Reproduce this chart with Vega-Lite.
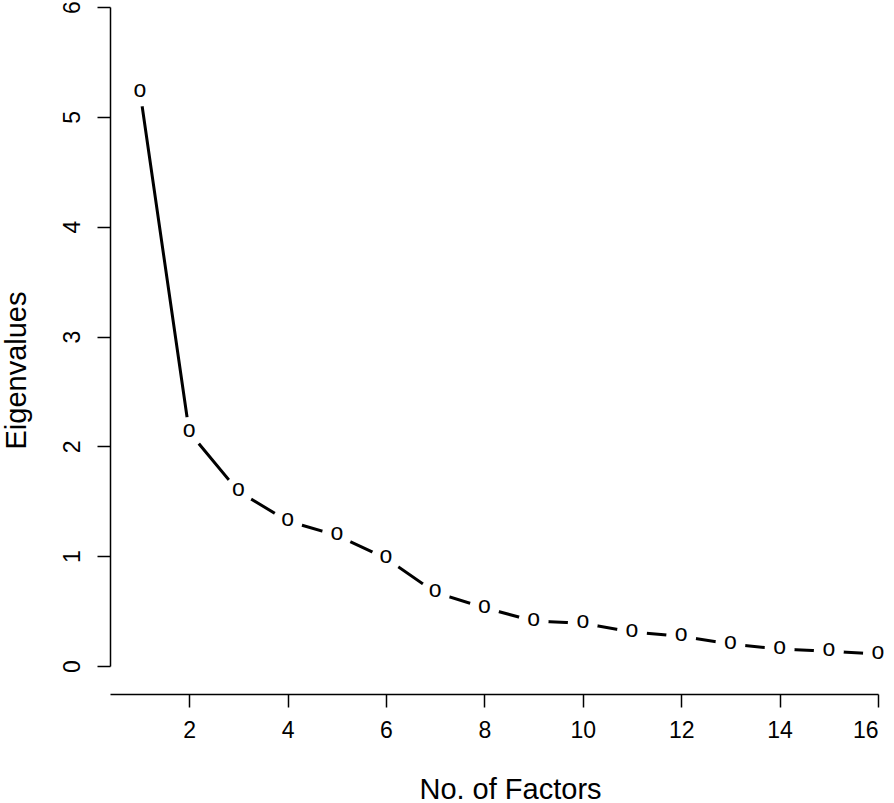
{
  "$schema": "https://vega.github.io/schema/vega-lite/v6.json",
  "autosize": {"type": "none"},
  "width": 768,
  "height": 659,
  "padding": {"left": 110, "top": 7, "right": 16, "bottom": 137},
  "background": "white",
  "config": {
    "view": {"stroke": null},
    "font": "Liberation Sans",
    "axis": {"grid": false, "domainColor": "black", "tickColor": "black", "labelColor": "black", "titleColor": "black", "domainWidth": 1.5, "tickWidth": 1.5, "labelFont": "Liberation Sans", "titleFont": "Liberation Sans", "titleFontWeight": "normal"}
  },
  "data": {
    "values": [
      {"factor": 1, "eigen": 5.23},
      {"factor": 2, "eigen": 2.13},
      {"factor": 3, "eigen": 1.59},
      {"factor": 4, "eigen": 1.32},
      {"factor": 5, "eigen": 1.19},
      {"factor": 6, "eigen": 0.98},
      {"factor": 7, "eigen": 0.67},
      {"factor": 8, "eigen": 0.53},
      {"factor": 9, "eigen": 0.41},
      {"factor": 10, "eigen": 0.39},
      {"factor": 11, "eigen": 0.31},
      {"factor": 12, "eigen": 0.27},
      {"factor": 13, "eigen": 0.2},
      {"factor": 14, "eigen": 0.155},
      {"factor": 15, "eigen": 0.135},
      {"factor": 16, "eigen": 0.11}
    ]
  },
  "encoding": {
    "x": {
      "field": "factor", "type": "quantitative",
      "scale": {"domain": [0.39, 16], "nice": false, "zero": false},
      "axis": {
        "values": [2, 4, 6, 8, 10, 12, 14, 16],
        "offset": 28, "tickSize": 13, "labelFontSize": 23, "labelPadding": 12,
        "title": "No. of Factors", "titleFontSize": 29,
        "titleX": 400, "titleY": 104, "titleBaseline": "alphabetic", "titleAnchor": null
      }
    },
    "y": {
      "field": "eigen", "type": "quantitative",
      "scale": {"domain": [0, 6], "nice": false},
      "axis": {
        "values": [0, 1, 2, 3, 4, 5, 6],
        "tickSize": 13, "labelFontSize": 23, "labelAngle": -90, "labelAlign": "center", "labelBaseline": "bottom", "labelPadding": 13,
        "title": "Eigenvalues", "titleFontSize": 29,
        "titleX": -79, "titleY": 363, "titleBaseline": "bottom", "titleAnchor": null
      }
    }
  },
  "layer": [
    {"mark": {"type": "line", "color": "black", "strokeWidth": 3}},
    {"mark": {"type": "point", "shape": "circle", "filled": true, "fill": "white", "stroke": null, "size": 900, "opacity": 1}},
    {"mark": {"type": "text", "text": "o", "fontSize": 23, "color": "black", "baseline": "middle", "align": "center", "dy": -2}}
  ]
}
